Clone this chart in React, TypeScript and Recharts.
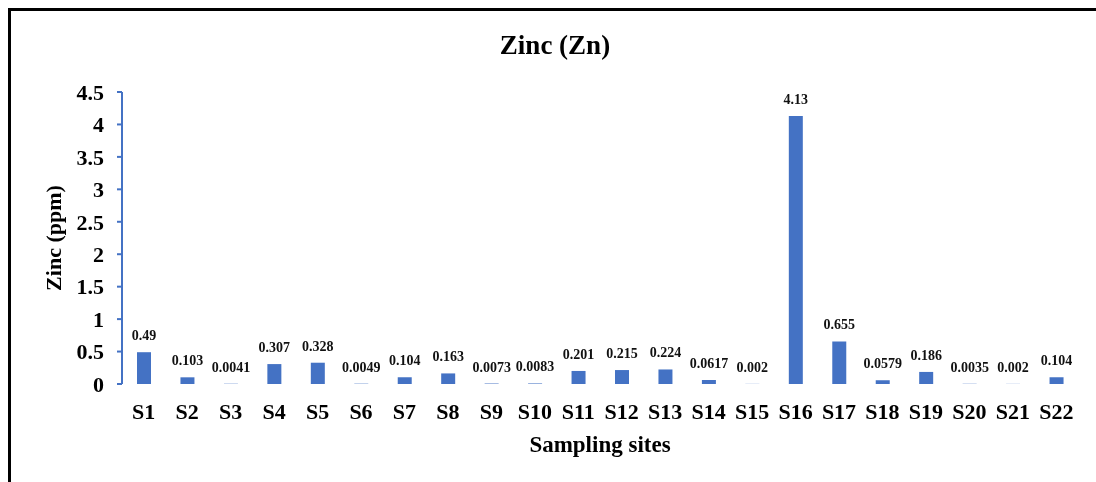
import { BarChart, Bar, XAxis, YAxis, LabelList, Label } from "recharts";

const sites = [
  "S1", "S2", "S3", "S4", "S5", "S6", "S7", "S8", "S9", "S10", "S11",
  "S12", "S13", "S14", "S15", "S16", "S17", "S18", "S19", "S20", "S21", "S22",
];

const zinc = [
  0.49, 0.103, 0.0041, 0.307, 0.328, 0.0049, 0.104, 0.163, 0.0073, 0.0083, 0.201,
  0.215, 0.224, 0.0617, 0.002, 4.13, 0.655, 0.0579, 0.186, 0.0035, 0.002, 0.104,
];

const yTicks = [0, 0.5, 1, 1.5, 2, 2.5, 3, 3.5, 4, 4.5];

// category boundaries, used for the tick marks between bars
const edges = sites.map((_, i) => i).concat(sites.length);

const data = sites.map((site, i) => ({ site, zn: zinc[i] }));

const FONT = "Liberation Serif, Tinos, Times New Roman, DejaVu Serif, serif";
const BLUE = "#4472C4";

const App = () => {
  return (
    <div style={{ position: "relative", width: 1088, height: 466, fontFamily: FONT }}>
      {/* frame runs off the right and bottom edges, fixed so it adds no scroll area */}
      <div
        style={{
          position: "fixed",
          top: 8,
          left: 8,
          width: 1120,
          height: 520,
          borderTop: "3px solid #000",
          borderLeft: "3px solid #000",
          boxSizing: "border-box",
          pointerEvents: "none",
        }}
      />
      <div
        style={{
          position: "absolute",
          top: 22,
          left: 0,
          width: 1094,
          textAlign: "center",
          fontSize: 27,
          fontWeight: "bold",
          color: "#000",
        }}
      >
        Zinc (Zn)
      </div>
      <div style={{ position: "absolute", top: 0, left: 0 }}>
        <BarChart
          width={1088}
          height={466}
          data={data}
          margin={{ top: 84, right: 18, bottom: 0, left: 0 }}
          barCategoryGap={0}
        >
          <XAxis
            xAxisId="edges"
            type="number"
            domain={[0, sites.length]}
            ticks={edges}
            height={0}
            tick={false}
            tickSize={6}
            axisLine={{ stroke: BLUE, strokeWidth: 2 }}
            tickLine={{ stroke: BLUE, strokeWidth: 2 }}
            allowDataOverflow
          />
          <XAxis
            xAxisId="sites"
            dataKey="site"
            interval={0}
            height={90}
            axisLine={false}
            tickLine={false}
            tickMargin={13}
            tick={{ fill: "#000", fontSize: 22, fontWeight: "bold", fontFamily: FONT }}
          >
            <Label
              value="Sampling sites"
              position="insideBottom"
              offset={22}
              style={{ fill: "#000", fontSize: 23, fontWeight: "bold", fontFamily: FONT }}
            />
          </XAxis>
          <YAxis
            width={114}
            domain={[0, 4.5]}
            ticks={yTicks}
            interval={0}
            tickSize={5}
            tickMargin={13}
            axisLine={{ stroke: BLUE, strokeWidth: 2 }}
            tickLine={{ stroke: BLUE, strokeWidth: 2 }}
            tick={{ fill: "#000", fontSize: 22, fontWeight: "bold", fontFamily: FONT }}
          >
            <Label
              value="Zinc (ppm)"
              angle={-90}
              position="insideLeft"
              offset={45}
              style={{
                fill: "#000",
                fontSize: 22,
                fontWeight: "bold",
                fontFamily: FONT,
                textAnchor: "middle",
              }}
            />
          </YAxis>
          <Bar
            xAxisId="sites"
            dataKey="zn"
            fill={BLUE}
            barSize={14}
            isAnimationActive={false}
          >
            <LabelList
              dataKey="zn"
              position="top"
              offset={12}
              style={{ fill: "#111", fontSize: 14, fontWeight: "bold", fontFamily: FONT }}
            />
          </Bar>
        </BarChart>
      </div>
    </div>
  );
};

export default App;
